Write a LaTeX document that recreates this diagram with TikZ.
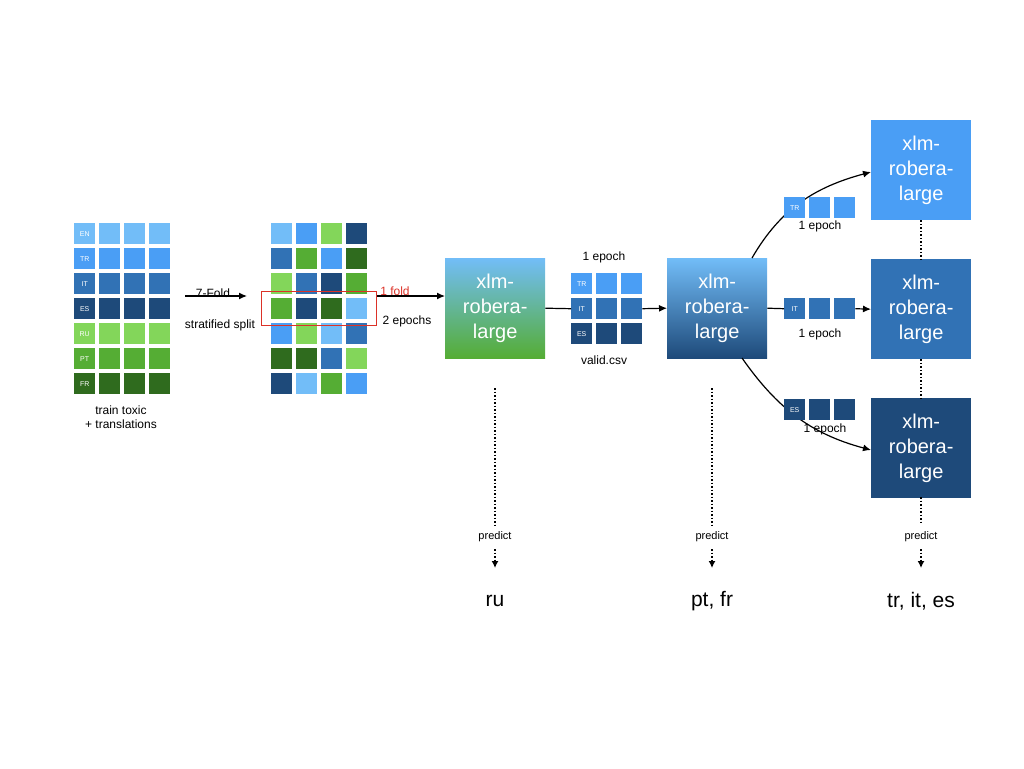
\documentclass[tikz,border=0pt]{standalone}
\usepackage{fontspec}
\setmainfont{Liberation Sans}
\usetikzlibrary{arrows.meta}
\definecolor{cEN}{RGB}{114,189,248}
\definecolor{cTR}{RGB}{74,158,245}
\definecolor{cIT}{RGB}{49,114,181}
\definecolor{cES}{RGB}{30,74,122}
\definecolor{cRU}{RGB}{131,214,90}
\definecolor{cPT}{RGB}{85,173,52}
\definecolor{cFR}{RGB}{47,107,30}
\definecolor{foldred}{RGB}{220,50,40}
\begin{document}
\begin{tikzpicture}[x=1pt,y=-1pt,
  cell/.style={minimum size=21pt,inner sep=0pt,anchor=north west,text=white,font=\fontsize{7}{8}\selectfont},
  model/.style={minimum size=100pt,inner sep=0pt,anchor=north west,text=white,align=center,font=\fontsize{20}{25}\selectfont},
  lbl/.style={font=\fontsize{12}{14}\selectfont,align=center},
  arr/.style={-{Latex[length=8pt,width=7pt]},line width=1.2pt},
  dot/.style={dotted,line width=1.5pt},
  pred/.style={font=\fontsize{11}{13}\selectfont},
  lang/.style={font=\fontsize{21}{25}\selectfont}]
\useasboundingbox (0,0) rectangle (1024,768);
% left grid
\foreach \c/\t [count=\r from 0] in {EN/EN,TR/TR,IT/IT,ES/ES,RU/RU,PT/PT,FR/FR}{
  \node[cell,fill=c\c] (g1-\r-0) at (74,223+25*\r) {\t};
  \foreach \k in {1,2,3}{\node[cell,fill=c\c] (g1-\r-\k) at (74+25*\k,223+25*\r) {};}
}
\node[lbl] (trainlbl) at (121,417) {train toxic\\+ translations};
% shuffled grid
\foreach \a/\b/\c/\d [count=\r from 0] in {EN/TR/RU/ES,IT/PT/TR/FR,RU/IT/ES/PT,PT/ES/FR/EN,TR/RU/EN/IT,FR/FR/IT/RU,ES/EN/PT/TR}{
  \node[cell,fill=c\a] (g2-\r-0) at (271,223+25*\r) {};
  \node[cell,fill=c\b] (g2-\r-1) at (296,223+25*\r) {};
  \node[cell,fill=c\c] (g2-\r-2) at (321,223+25*\r) {};
  \node[cell,fill=c\d] (g2-\r-3) at (346,223+25*\r) {};
}
\node[draw=foldred,line width=1.2pt,minimum width=115pt,minimum height=34pt,inner sep=0pt,anchor=north west] (fold) at (261,291) {};
\coordinate (s1) at (185,296);
\coordinate (s2) at (247,296);
\draw[arr] (s1) -- (s2);
\node[lbl] (sevenfold) at (213,293) {7-Fold};
\node[lbl] (strat) at (220,325) {stratified split};
\node[lbl,text=foldred] (onefold) at (395,291) {1 fold};
\node[lbl] (twoep) at (407,321) {2 epochs};
% model 1
\shade[top color=cEN,bottom color=cPT] (445,258) rectangle (545,358);
\node[model] (m1) at (445,258) {xlm-\\robera-\\large};
\draw[arr] (fold.east |- 0,296) -- (m1.west |- 0,296);
% valid
\foreach \c [count=\r from 0] in {TR,IT,ES}{
  \node[cell,fill=c\c] (v-\r-0) at (571,273+25*\r) {\c};
  \foreach \k in {1,2}{\node[cell,fill=c\c] (v-\r-\k) at (571+25*\k,273+25*\r) {};}
}
\node[lbl] (ep1) at (604,257) {1 epoch};
\node[lbl] (validlbl) at (604,360) {valid.csv};
% model 2
\shade[top color=cEN,bottom color=cES] (667,258) rectangle (767,358);
\node[model] (m2) at (667,258) {xlm-\\robera-\\large};
\draw[line width=1.2pt] (m1.east) -- (v-1-0.west);
\draw[arr] (v-1-2.east) -- (m2.west);
% right models
\node[model,fill=cTR] (r1) at (871,120) {xlm-\\robera-\\large};
\node[model,fill=cIT] (r2) at (871,259) {xlm-\\robera-\\large};
\node[model,fill=cES] (r3) at (871,398) {xlm-\\robera-\\large};
\draw[dot] (r1.south) -- (r2.north);
\draw[dot] (r2.south) -- (r3.north);
% branches
\draw[arr] (752,258) to[out=60,in=195] (r1.west |- 0,172);
\draw[arr] (742,358) to[out=-55,in=165] (r3.west |- 0,450);
\foreach \c/\y/\n in {TR/197/a,IT/298/b,ES/399/c}{
  \node[cell,fill=c\c] (b\n0) at (784,\y) {\c};
  \node[cell,fill=c\c] (b\n1) at (809,\y) {};
  \node[cell,fill=c\c] (b\n2) at (834,\y) {};
}
\draw[line width=1.2pt] (m2.east) -- (bb0.west);
\draw[arr] (bb2.east) -- (r2.west);
\node[lbl] (e1) at (820,226) {1 epoch};
\node[lbl] (e2) at (820,334) {1 epoch};
\node[lbl] (e3) at (825,429) {1 epoch};
% predictions
\foreach \x/\top/\txt/\n in {495/388/ru/1,712/388/{pt, fr}/2,921/497/{tr, it, es}/3}{
  \coordinate (pt\n) at (\x,\top);
  \node[pred] (p\n) at (\x,537) {predict};
  \coordinate (pe\n) at (\x,568);
  \draw[dot] (pt\n) -- (\x,525);
  \draw[dotted,line width=1.5pt,-{Latex[length=7pt,width=7pt]}] (\x,549) -- (pe\n);
  \node[lang] (l\n) at (\x,601) {\txt};
}
\end{tikzpicture}
\end{document}
